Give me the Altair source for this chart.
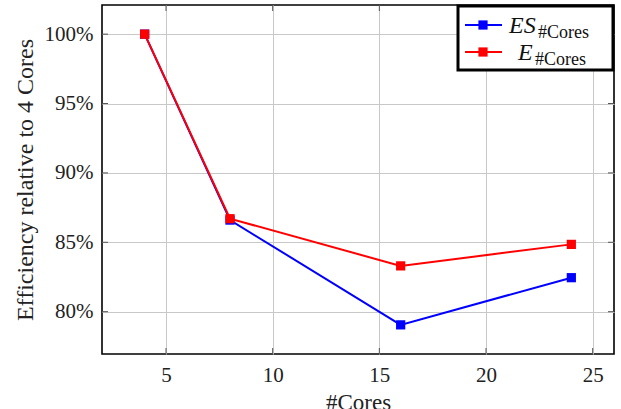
import altair as alt
import pandas as pd

cores = [4, 8, 16, 24]
es_values = [100.0, 86.6, 79.05, 82.45]
e_values = [100.0, 86.7, 83.3, 84.85]
x_ticks = [5, 10, 15, 20, 25]
y_ticks = [80, 85, 90, 95, 100]

W, H = 512, 349
FONT = "Liberation Serif"
BLUE = "#0000ff"
RED = "#ff0000"

xs = alt.Scale(domain=[2, 26], nice=False, zero=False)
ys = alt.Scale(domain=[76.95, 102.1], nice=False, zero=False)

x_axis = alt.Axis(
    values=x_ticks, title="#Cores", grid=True, gridColor="#c8c8c8", gridWidth=1,
    tickSize=0, domain=False, labelFont=FONT, labelFontSize=21, labelColor="#222",
    labelPadding=10, titleFont=FONT, titleFontSize=23, titleFontWeight="normal",
    titleColor="#222", titleX=W / 2, titleY=55, titleBaseline="alphabetic",
    titleAlign="center",
)
y_axis = alt.Axis(
    values=y_ticks, title="Efficiency relative to 4 Cores", grid=True,
    gridColor="#c8c8c8", gridWidth=1, tickSize=0, domain=False,
    labelFont=FONT, labelFontSize=21, labelColor="#222", labelPadding=9,
    labelExpr="datum.value + '%'",
    titleFont=FONT, titleFontSize=24, titleFontWeight="normal", titleColor="#222",
    titleX=-77, titleY=H / 2, titleAngle=270, titleAlign="center",
    titleBaseline="middle",
)

es_df = pd.DataFrame({"cores": cores, "val": es_values})
e_df = pd.DataFrame({"cores": cores, "val": e_values})
xt_df = pd.DataFrame({"v": x_ticks})
yt_df = pd.DataFrame({"v": y_ticks})
one = pd.DataFrame({"k": [0]})


def series(df, color):
    return alt.Chart(df).mark_line(
        color=color, strokeWidth=2,
        point=alt.OverlayMarkDef(shape="square", size=85, filled=True, color=color, opacity=1),
    ).encode(
        x=alt.X("cores:Q", scale=xs, axis=x_axis),
        y=alt.Y("val:Q", scale=ys, axis=y_axis),
    )


tick_style = dict(color="#555", strokeWidth=1)
ticks_bottom = alt.Chart(xt_df).mark_rule(**tick_style).encode(
    x=alt.X("v:Q", scale=xs, axis=x_axis), y=alt.value(H), y2=alt.value(H - 6))
ticks_top = alt.Chart(xt_df).mark_rule(**tick_style).encode(
    x=alt.X("v:Q", scale=xs, axis=x_axis), y=alt.value(0), y2=alt.value(6))
ticks_left = alt.Chart(yt_df).mark_rule(**tick_style).encode(
    y=alt.Y("v:Q", scale=ys, axis=y_axis), x=alt.value(0), x2=alt.value(6))
ticks_right = alt.Chart(yt_df).mark_rule(**tick_style).encode(
    y=alt.Y("v:Q", scale=ys, axis=y_axis), x=alt.value(W), x2=alt.value(W - 6))

# legend
leg_box = alt.Chart(one).mark_rect(fill="white", stroke="black", strokeWidth=3).encode(
    x=alt.value(356), x2=alt.value(511), y=alt.value(1), y2=alt.value(65))


def leg_entry(color, yc, main, mx, sub, sx):
    line = alt.Chart(one).mark_rule(color=color, strokeWidth=2).encode(
        x=alt.value(363), x2=alt.value(400), y=alt.value(yc))
    pt = alt.Chart(one).mark_point(shape="square", size=85, filled=True, color=color, opacity=1).encode(
        x=alt.value(381), y=alt.value(yc))
    t1 = alt.Chart(one).mark_text(
        text=main, font=FONT, fontSize=24, fontStyle="italic", align="left",
        baseline="alphabetic", color="#111").encode(x=alt.value(mx), y=alt.value(yc + 8))
    t2 = alt.Chart(one).mark_text(
        text=sub, font=FONT, fontSize=18, align="left",
        baseline="alphabetic", color="#111").encode(x=alt.value(sx), y=alt.value(yc + 13))
    return [line, pt, t1, t2]


legend_layers = [leg_box] + leg_entry(BLUE, 20, "ES", 407, "#Cores", 436) + \
    leg_entry(RED, 47, "E", 416, "#Cores", 433)

chart = alt.layer(
    ticks_bottom, ticks_top, ticks_left, ticks_right,
    series(es_df, BLUE), series(e_df, RED),
    *legend_layers,
).properties(
    width=W, height=H,
    autosize=alt.AutoSizeParams(type="none"),
    padding={"left": 102, "top": 5, "right": 7, "bottom": 55},
    background="white",
).configure_view(stroke="black", strokeWidth=1.6)

chart.save("out.html", embed_options={"renderer": "svg", "actions": False})
